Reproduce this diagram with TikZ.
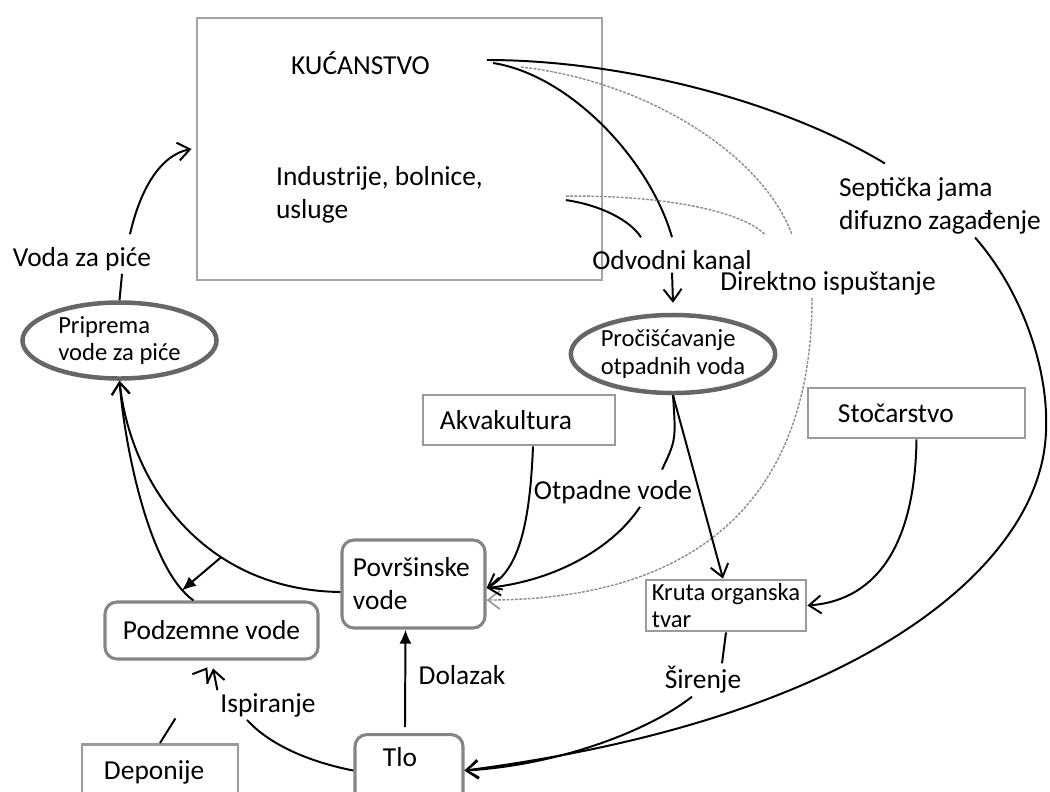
\documentclass[tikz,border=0pt]{standalone}
\usepackage{fontspec}
\setmainfont{Carlito}
\usetikzlibrary{shapes.geometric,arrows.meta}

\definecolor{framegray}{HTML}{A3A3A3}
\definecolor{boxgray}{HTML}{9A9A9A}
\definecolor{roundgray}{HTML}{858585}
\definecolor{ovalgray}{HTML}{666666}
\definecolor{dotgray}{HTML}{8C8C8C}

\newcommand{\labelsize}{\fontsize{19.5}{23.5}\selectfont}
\newcommand{\smallsize}{\fontsize{17.5}{19.5}\selectfont}

\tikzset{
  lbl/.style={inner sep=2pt},
  hhbox/.style={draw=framegray, line width=2pt},
  plainbox/.style={draw=boxgray, line width=2pt, align=left, inner ysep=0pt, minimum height=1.25cm},
  roundbox/.style={draw=roundgray, line width=2.2pt, rounded corners=0.3cm, inner ysep=0pt},
  ovalnode/.style={ellipse, draw=ovalgray, line width=3.2pt, inner sep=0pt, align=left, font=\smallsize},
  wire/.style={line width=1.4pt},
  flow/.style={wire, -{Straight Barb[length=0.3cm,width=0.45cm]}},
  fflow/.style={wire, -{Latex[length=0.35cm,width=0.3cm]}},
  dwire/.style={draw=dotgray, line width=1pt, dash pattern=on 2pt off 1pt},
  dflow/.style={dwire, -{Straight Barb[length=0.3cm,width=0.45cm]}}
}

\begin{document}
\begin{tikzpicture}[x=0.025cm, y=-0.025cm, font=\labelsize]
  \useasboundingbox (0,0) rectangle (1050,791);
  \clip (0,0) rectangle (1050,791);

  % Household block
  \node[hhbox, minimum width=10.125cm, minimum height=6.55cm] (house) at (399.5,149) {};
  \node[lbl, anchor=west] (kuc) at (288,63) {KUĆANSTVO};
  \node[lbl, anchor=west, align=left] (ind) at (273,194.5) {Industrije, bolnice,\\usluge};

  % Treatment ovals
  \node[ovalnode, minimum width=4.85cm, minimum height=1.9cm] (pri) at (119.5,340.5) {Priprema\\vode za piće};
  \node[ovalnode, minimum width=4.85cm, minimum height=1.95cm] (proc) at (673,354) {Pročišćavanje\\otpadnih voda};

  % Boxes
  \node[plainbox, minimum width=4.8cm, inner xsep=0.425cm, text width=3.95cm] (akv) at (519,420) {Akvakultura};
  \node[plainbox, minimum width=5.425cm, inner xsep=0.75cm, text width=3.925cm] (sto) at (916.5,413) {Stočarstvo};
  \node[plainbox, font=\smallsize, minimum height=1.275cm, minimum width=4cm] (kruta) at (726,605.5) {Kruta organska\\tvar};
  \node[plainbox, anchor=north, minimum height=0pt, minimum width=3.9cm, inner xsep=0.55cm, text width=2.8cm, text height=0.875cm, text depth=1cm] (dep) at (160,743) {Deponije};
  \node[roundbox, minimum width=3.575cm, minimum height=2.2cm, inner xsep=0.275cm, text width=3.025cm, align=left] (pov) at (413.5,584) {Površinske\\vode};
  \node[roundbox, minimum width=5.325cm, minimum height=1.425cm] (podz) at (211.5,630.5) {Podzemne vode};
  \node[roundbox, anchor=north, minimum width=2.7cm, inner xsep=0.7cm, text width=1.3cm, align=left, text height=0.8cm, text depth=1cm] (tlo) at (409,733) {Tlo};

  % Flow labels
  \node[lbl] (voda) at (82,259) {Voda za piće};
  \node[lbl] (odv) at (672,260) {Odvodni kanal};
  \node[lbl] (dir) at (828,283) {Direktno ispuštanje};
  \node[lbl, anchor=west, align=left] (sept) at (836,206) {Septička jama\\difuzno zagađenje};
  \node[lbl] (otp) at (613,492) {Otpadne vode};
  \node[lbl] (dol) at (462,675) {Dolazak};
  \node[lbl] (isp) at (268,705) {Ispiranje};
  \node[lbl] (sir) at (703,680) {Širenje};

  % Drinking water loop
  \draw[wire] (pri.north) -- ([xshift=1cm]voda.south);
  \draw[flow] ([xshift=1.2cm,yshift=0.25cm]voda.north) .. controls (140,190) and (160,155) .. ([xshift=-0.1cm]house.west);

  % Outflows from households and industry
  \draw[wire] ([xshift=1.35cm,yshift=0.075cm]kuc.east) .. controls (620,60) and (780,100) .. ([xshift=-1.375cm,yshift=0.275cm]sept.north);
  \draw[wire] ([xshift=1.5cm]kuc.east) .. controls (570,75) and (650,160) .. ([yshift=0.25cm]odv.north);
  \draw[dwire] ([xshift=2.2cm,yshift=-0.1cm]kuc.east) .. controls (640,80) and (760,150) .. ([xshift=-0.9cm,yshift=0.84cm]dir.north);
  \draw[wire] ([xshift=2cm,yshift=-0.14cm]ind.east) .. controls (600,205) and (630,220) .. ([xshift=-0.775cm,yshift=0.25cm]odv.north);
  \draw[dwire] ([xshift=2cm,yshift=-0.04cm]ind.east) .. controls (660,195) and (740,210) .. ([xshift=-1.575cm,yshift=0.84cm]dir.north);

  % Sewer, direct discharge, septic tank
  \draw[flow] (odv.south) -- ([yshift=0.25cm]proc.north);
  \draw[dflow] ([xshift=-0.4cm]dir.south) .. controls (812,497) and (699,600) .. ([yshift=-0.4cm]pov.east);
  \draw[flow] ([xshift=0.875cm]sept.south) .. controls (1030,300) and (1060,400) .. (1040,470)
    .. controls (1010,580) and (850,720) .. (tlo.east);

  % Treatment outputs
  \draw[wire] (proc.south) .. controls (676,440) .. ([xshift=1.225cm,yshift=0.19cm]otp.north);
  \draw[flow] ([xshift=0.675cm]otp.south) .. controls (615,545) and (560,580) .. ([yshift=-0.1cm]pov.east);
  \draw[flow] (proc.south) -- ([xshift=-0.075cm]kruta.north);
  \draw[flow] ([xshift=0.35cm]akv.south) .. controls (530,520) and (520,570) .. ([yshift=-0.1cm]pov.east);
  \draw[flow] (sto.south) .. controls (915,540) and (880,600) .. (kruta.east);

  % Spreading to soil
  \draw[wire] (kruta.south) -- ([xshift=0.475cm]sir.north);
  \draw[flow] ([xshift=-0.275cm]sir.south) .. controls (650,730) and (560,765) .. (tlo.east);

  % Surface and ground water
  \draw[flow] ([yshift=-0.2cm]pov.west) .. controls (200,590) and (130,480) .. (pri.south) coordinate[pos=0.34] (split);
  \draw[fflow] (split) -- ([xshift=-0.74cm,yshift=0.25cm]podz.north);
  \draw[flow] ([xshift=-0.45cm]podz.north) .. controls (150,570) and (125,450) .. (pri.south);
  \draw[fflow] ([xshift=-0.1cm,yshift=0.15cm]tlo.north) -- ([xshift=-0.2cm]pov.south);

  % Leaching
  \draw[wire] (tlo.west) .. controls (300,760) and (265,740) .. ([xshift=-0.525cm]isp.south);
  \draw[flow, shorten >=0.2cm] (isp.north west) -- (podz.south);
  \draw[flow, shorten >=0.2cm, dash pattern=on 0.725cm off 3cm] (dep.north) -- (podz.south);
\end{tikzpicture}
\end{document}
